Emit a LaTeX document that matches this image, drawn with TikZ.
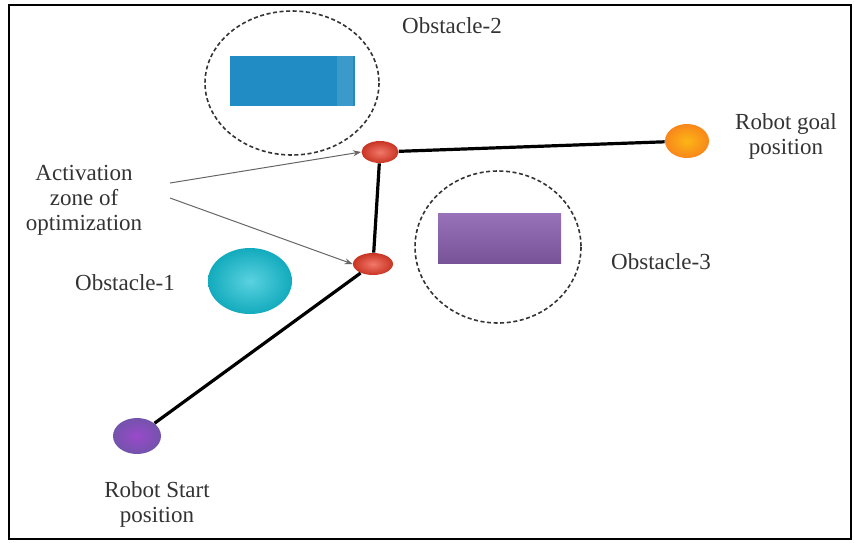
\documentclass[tikz,border=0pt]{standalone}
\usepackage{fontspec}
\setmainfont{Liberation Serif}
\usetikzlibrary{arrows.meta,shapes.geometric}

\definecolor{blockblue}{RGB}{33,140,196}
\definecolor{blockpurple}{RGB}{141,98,178}
\definecolor{obscyan}{RGB}{20,190,210}
\definecolor{wayred}{RGB}{236,62,42}
\definecolor{goalorange}{RGB}{248,150,30}
\definecolor{startpurple}{RGB}{128,92,190}

\begin{document}
\begin{tikzpicture}[x=0.5pt, y=-0.5pt,
  lbl/.style = {align=center, font=\fontsize{11.5}{12.5}\selectfont, text=black!80},
  zone/.style = {draw=black!80, dash pattern=on 2pt off 1.3pt, line width=0.8pt},
  waypt/.style = {ellipse, inner sep=0pt, shade, outer color=wayred!85!black, inner color=wayred!70!white},
  route/.style = {line width=1.6pt, black},
  pointer/.style = {draw=black!60, line width=0.5pt, -{Stealth[length=4pt]}}]
  \useasboundingbox (0,0) rectangle (854,542);
  \draw[line width=1pt] (9,5) rectangle (851,539);

  % obstacles
  \draw[zone] (292,83) ellipse [x radius=87, y radius=72];
  \fill[blockblue] (230,56) rectangle (355,106);
  \fill[blockblue!88!white] (337,56) rectangle (353,106);
  \draw[zone] (498,247) ellipse [x radius=83, y radius=76];
  \shade[top color=blockpurple!90!white, bottom color=blockpurple!85!black] (438,213) rectangle (561,263);
  \shade[inner color=obscyan!70!white, outer color=obscyan!90!black] (250,281) ellipse [x radius=42, y radius=33];

  % points
  \node[waypt, minimum width=18.5pt, minimum height=11pt] (w1) at (380,152) {};
  \node[waypt, minimum width=20pt, minimum height=11pt] (w2) at (373,264) {};
  \node[ellipse, inner sep=0pt, minimum width=22pt, minimum height=17pt, shade, inner color=goalorange!70!yellow, outer color=goalorange!90!red] (goal) at (687,141) {};
  \node[ellipse, inner sep=0pt, minimum width=24pt, minimum height=18pt, shade, inner color=startpurple!80!magenta, outer color=startpurple!90!black] (start) at (137,436) {};

  % path
  \draw[route] (start) -- (w2) (w2) -- (w1) (w1) -- (goal);

  % labels
  \node[lbl] (ob2) at (452,26) {Obstacle-2};
  \node[lbl] (ob1) at (125,283) {Obstacle-1};
  \node[lbl] (ob3) at (661,262) {Obstacle-3};
  \node[lbl] (goallbl) at (786,136) {Robot goal\\position};
  \node[lbl] (startlbl) at (157,504) {Robot Start\\position};
  \node[lbl] (act) at (84,200) {Activation\\zone of\\optimization};

  \coordinate (p1) at (170,183);
  \coordinate (p2) at (170,198);
  \draw[pointer] (p1) -- (w1.west);
  \draw[pointer] (p2) -- (w2.west);
\end{tikzpicture}
\end{document}
